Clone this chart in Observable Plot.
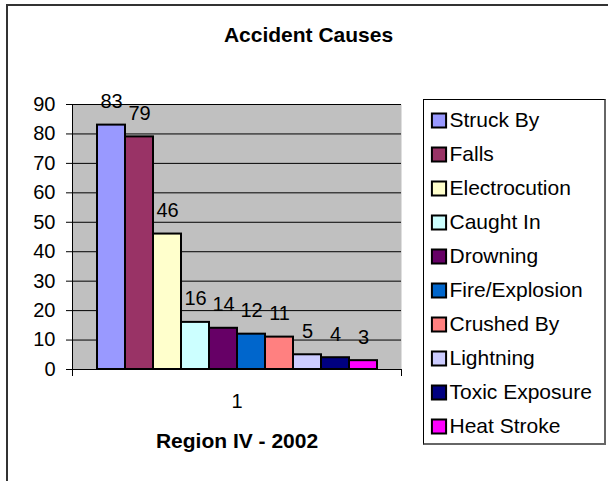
<!DOCTYPE html>
<html><head><meta charset="utf-8">
<script src="https://cdn.jsdelivr.net/npm/d3@7"></script>
<script src="https://cdn.jsdelivr.net/npm/@observablehq/plot@0.6"></script>
<style>
html,body{margin:0;padding:0;background:#fff;overflow:hidden;width:608px;height:481px;}
#wrap{position:relative;width:608px;height:481px;font-family:"Liberation Sans",Arial,sans-serif;color:#000;}
#chart{position:absolute;left:0;top:0;}
#legend{position:absolute;left:423px;top:99px;width:183px;height:346px;box-sizing:border-box;border:1px solid #000;border-right:2px solid #666;border-bottom:2px solid #666;background:#fff;}
#legend svg, #chart svg{display:block;}
#border{position:absolute;left:6px;top:4px;width:700px;height:600px;border:2px solid #333;pointer-events:none;}
</style></head><body>
<div id="wrap"><div id="chart"></div><div id="legend"></div><div id="border"></div></div>
<script>
const title = "Accident Causes";
const groupLabel = "Region IV - 2002";
const groups = ["1"];
const causes = ["Struck By","Falls","Electrocution","Caught In","Drowning","Fire/Explosion","Crushed By","Lightning","Toxic Exposure","Heat Stroke"];
const counts = [83,79,46,16,14,12,11,5,4,3];
const palette = ["#9999ff","#993366","#ffffcc","#ccffff","#660066","#0066cc","#ff8080","#ccccff","#000080","#ff00ff"];
const yTicks = [0,10,20,30,40,50,60,70,80,90];

const rows = causes.map((c, i) => ({group: groups[0], cause: c, count: counts[i]}));
const font = '"Liberation Sans", Arial, sans-serif';

const W = 608, H = 481, mT = 104, mB = 112;
const innerH = H - mT - mB;

const chart = Plot.plot({
  width: W, height: H,
  marginLeft: 72, marginRight: 207, marginTop: mT, marginBottom: mB,
  style: {fontFamily: font, fontSize: "20px", background: "transparent", overflow: "visible", color: "#000"},
  fx: {domain: groups, padding: 0},
  x: {domain: causes, paddingInner: 0, paddingOuter: 0.74, axis: null},
  y: {domain: [0, 90]},
  color: {domain: causes, range: palette},
  marks: [
    Plot.frame({fill: "#c0c0c0", stroke: null}),
    Plot.gridY(yTicks, {stroke: "#000", strokeOpacity: 1}),
    Plot.axisY(yTicks, {tickSize: 6, tickPadding: 11, fontSize: 20, label: null}),
    Plot.frame({anchor: "left", stroke: "#000", insetBottom: -6}),
    Plot.frame({anchor: "right", stroke: "#000", insetTop: innerH, insetBottom: -6}),
    Plot.barY(rows, {fx: "group", x: "cause", y: "count", fill: "cause", stroke: "#000", strokeWidth: 2}),
    Plot.text(rows, {fx: "group", x: "cause", y: "count", text: "count", lineAnchor: "bottom", dy: -17, fontSize: 20}),
    Plot.axisFx({anchor: "bottom", tickSize: 0, tickPadding: 24, fontSize: 20, label: null}),
    Plot.text([title], {frameAnchor: "top", dx: 71.5, dy: -63, lineAnchor: "bottom", fontWeight: "bold", fontSize: 21}),
    Plot.text([groupLabel], {frameAnchor: "bottom", dy: 78, lineAnchor: "bottom", fontWeight: "bold", fontSize: 21})
  ]
});
document.getElementById("chart").append(chart);

const legend = Plot.plot({
  width: 180, height: 343,
  marginTop: 18, marginBottom: 15.5, marginLeft: 0, marginRight: 0,
  style: {fontFamily: font, fontSize: "21px", background: "transparent", overflow: "visible", color: "#000"},
  y: {type: "point", domain: causes, padding: 0, axis: null},
  color: {domain: causes, range: palette},
  marks: [
    Plot.dot(causes, {y: d => d, frameAnchor: "left", dx: 14.5, symbol: "square", r: 8, fill: d => d, stroke: "#000", strokeWidth: 2}),
    Plot.text(causes, {y: d => d, frameAnchor: "left", dx: 25, text: d => d, textAnchor: "start", fontSize: 21})
  ]
});
document.getElementById("legend").append(legend);
</script>
</body></html>
